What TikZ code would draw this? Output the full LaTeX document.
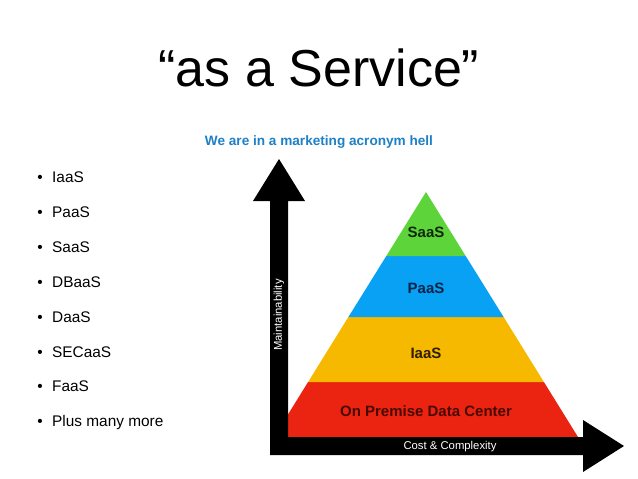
\documentclass[tikz,border=0pt]{standalone}
\usepackage{fontspec}
\setmainfont{Liberation Sans}
\definecolor{saasgreen}{HTML}{5ED43B}
\definecolor{paasblue}{HTML}{09A1F3}
\definecolor{iaasyellow}{HTML}{F7B800}
\definecolor{premred}{HTML}{EA2411}
\definecolor{subblue}{HTML}{1E80C6}
\definecolor{saastext}{HTML}{10280A}
\definecolor{paastext}{HTML}{0A2448}
\definecolor{iaastext}{HTML}{2E1E00}
\definecolor{premtext}{HTML}{4A0A02}
\tikzset{
  bandlabel/.style={font=\fontsize{15}{18}\selectfont\bfseries, inner sep=0pt},
  axislabel/.style={font=\fontsize{11.3}{13}\selectfont, text=white, inner sep=0pt},
  bullettext/.style={font=\fontsize{15.4}{18}\selectfont, anchor=base west, inner sep=0pt},
  bulletdot/.style={font=\fontsize{15.4}{18}\selectfont, anchor=base, inner sep=0pt},
}
\begin{document}
\begin{tikzpicture}[x=1pt,y=-1pt]
\useasboundingbox (0,0) rectangle (638,479);
\fill[white] (0,0) rectangle (638,479);
% title
\node[anchor=base, inner sep=0pt, font=\fontsize{52}{60}\selectfont] (title) at (319,86.5) {“as a Service”};
\node[inner sep=0pt, font=\fontsize{13.6}{16}\selectfont\bfseries, text=subblue] (subtitle) at (319,142) {We are in a marketing acronym hell};
% bullets
\foreach \t [count=\i] in {IaaS,PaaS,SaaS,DBaaS,DaaS,SECaaS,FaaS,Plus many more}{
  \pgfmathsetmacro{\yy}{182.5+(\i-1)*34.9}
  \node[bulletdot] (bd\i) at (40,\yy) {•};
  \node[bullettext] (bt\i) at (52,\yy) {\t};
}
% pyramid bands
\fill[premred] (308.1,382) -- (543.9,382) -- (578,437) -- (274,437) -- cycle;
\fill[iaasyellow] (348.4,317) -- (503.6,317) -- (543.9,382) -- (308.1,382) -- cycle;
\fill[paasblue] (386.3,256) -- (465.7,256) -- (503.6,317) -- (348.4,317) -- cycle;
\fill[saasgreen] (426,192) -- (465.7,256) -- (386.3,256) -- cycle;
\node[bandlabel, text=saastext] (saas) at (426,232) {SaaS};
\node[bandlabel, text=paastext] (paas) at (426,288) {PaaS};
\node[bandlabel, text=iaastext] (iaas) at (426,353) {IaaS};
\node[bandlabel, text=premtext] (prem) at (426,411) {On Premise Data Center};
% axes
\fill[black] (270,201) -- (253,201) -- (279,159) -- (305,201) -- (288,201)
  -- (288,437) -- (583,437) -- (583,420) -- (624,446) -- (583,472)
  -- (583,455) -- (270,455) -- cycle;
\node[axislabel, rotate=90] (ylab) at (279,315) {Maintainability};
\node[axislabel] (xlab) at (450,446.5) {Cost \& Complexity};
\end{tikzpicture}
\end{document}
